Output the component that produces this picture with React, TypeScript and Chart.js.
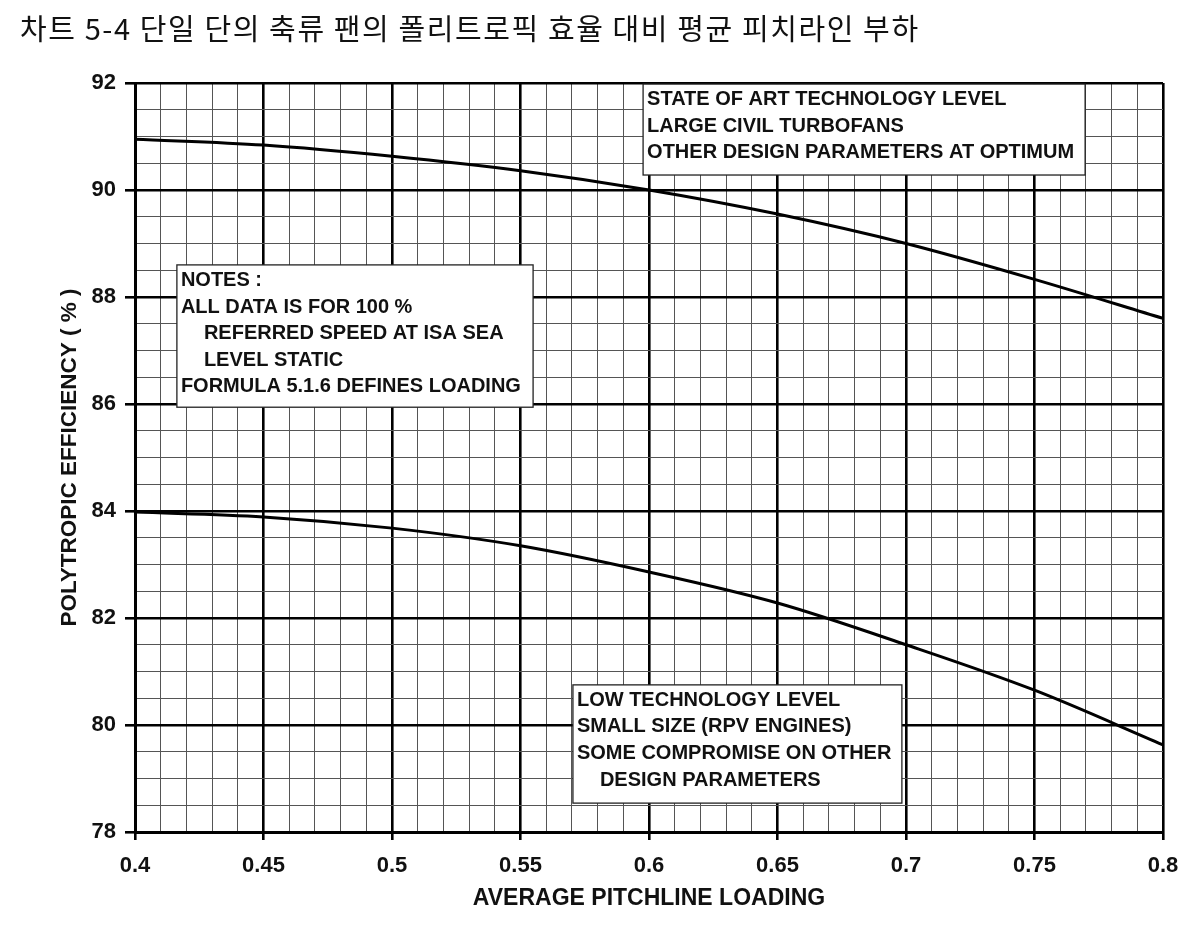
import React, { useEffect, useRef } from 'react';
import { Chart, registerables } from 'chart.js';

Chart.register(...registerables);

const TITLE = '차트 5-4 단일 단의 축류 팬의 폴리트로픽 효율 대비 평균 피치라인 부하';
const X_TITLE = 'AVERAGE PITCHLINE LOADING';
const Y_TITLE = 'POLYTROPIC EFFICIENCY ( % )';

const loading = [0.4, 0.45, 0.5, 0.55, 0.6, 0.65, 0.7, 0.75, 0.8];
const stateOfArtEfficiency = [90.95, 90.84, 90.63, 90.36, 90.0, 89.55, 89.0, 88.33, 87.6];
const lowTechEfficiency = [83.98, 83.89, 83.68, 83.35, 82.86, 82.28, 81.5, 80.65, 79.63];

const xTickLabels = ['0.4', '0.45', '0.5', '0.55', '0.6', '0.65', '0.7', '0.75', '0.8'];
const yTickLabels = ['78', '80', '82', '84', '86', '88', '90', '92'];

const stateOfArtNote = [
  'STATE OF ART TECHNOLOGY LEVEL',
  'LARGE CIVIL TURBOFANS',
  'OTHER DESIGN PARAMETERS AT OPTIMUM',
];
const generalNote = [
  'NOTES :',
  'ALL DATA IS FOR 100 %',
  '   REFERRED SPEED AT ISA SEA',
  '   LEVEL STATIC',
  'FORMULA 5.1.6 DEFINES LOADING',
];
const lowTechNote = [
  'LOW TECHNOLOGY LEVEL',
  'SMALL SIZE (RPV ENGINES)',
  'SOME COMPROMISE ON OTHER',
  '   DESIGN PARAMETERS',
];

// box corners in data units (x = loading, y = efficiency)
const noteBoxes = [
  { x1: 0.5977, y1: 91.98, x2: 0.7697, y2: 90.28, lines: stateOfArtNote },
  { x1: 0.4163, y1: 88.6, x2: 0.5549, y2: 85.94, lines: generalNote },
  { x1: 0.5704, y1: 80.75, x2: 0.6984, y2: 78.54, lines: lowTechNote },
];

const FONT = '"Liberation Sans", Arial, Helvetica, sans-serif';

const isMajorX = (v: number) => Math.abs(Math.round(v * 100)) % 5 === 0;
const isMajorY = (v: number) => Math.abs(Math.round(v * 2)) % 4 === 0;

const notesPlugin = {
  id: 'notes',
  afterDatasetsDraw(chart: any) {
    const { ctx, scales } = chart;
    const xs = scales.x;
    const ys = scales.y;
    ctx.save();
    for (const b of noteBoxes) {
      const l = xs.getPixelForValue(b.x1);
      const r = xs.getPixelForValue(b.x2);
      const t = ys.getPixelForValue(b.y1);
      const bt = ys.getPixelForValue(b.y2);
      ctx.fillStyle = '#ffffff';
      ctx.fillRect(l, t, r - l, bt - t);
      ctx.strokeStyle = '#222';
      ctx.lineWidth = 1.3;
      ctx.strokeRect(l, t, r - l, bt - t);
      ctx.fillStyle = '#111';
      ctx.font = `bold 20px ${FONT}`;
      ctx.textBaseline = 'middle';
      ctx.textAlign = 'left';
      b.lines.forEach((line, i) => {
        const indent = line.startsWith('   ') ? 23 : 0;
        ctx.fillText(line.trim(), l + 4 + indent, t + 15.5 + i * 26.6);
      });
    }
    ctx.restore();
  },
};

export default function App() {
  const ref = useRef<HTMLCanvasElement | null>(null);

  useEffect(() => {
    if (!ref.current) return;
    const chart = new Chart(ref.current, {
      type: 'scatter',
      data: {
        datasets: [
          {
            label: 'State of art',
            data: loading.map((x, i) => ({ x, y: stateOfArtEfficiency[i] })),
            showLine: true,
            borderColor: '#000',
            borderWidth: 3,
            pointRadius: 0,
            cubicInterpolationMode: 'monotone',
          },
          {
            label: 'Low technology',
            data: loading.map((x, i) => ({ x, y: lowTechEfficiency[i] })),
            showLine: true,
            borderColor: '#000',
            borderWidth: 3,
            pointRadius: 0,
            cubicInterpolationMode: 'monotone',
          },
        ],
      },
      options: {
        responsive: false,
        animation: false,
        devicePixelRatio: 1,
        layout: { padding: { top: 83, right: 41, bottom: 0, left: 0 } },
        plugins: {
          legend: { display: false },
          tooltip: { enabled: false },
        },
        scales: {
          x: {
            type: 'linear',
            min: 0.4,
            max: 0.8,
            afterFit: (s: any) => {
              s.height = 94;
            },
            ticks: {
              stepSize: 0.01,
              autoSkip: false,
              maxTicksLimit: 1000,
              maxRotation: 0,
              padding: 13,
              color: '#111',
              font: { family: FONT, size: 22, weight: 'bold' },
              callback: (v: any) => {
                const n = Number(v);
                if (!isMajorX(n)) return '';
                const idx = Math.round((n - 0.4) / 0.05);
                return xTickLabels[idx] ?? '';
              },
            },
            grid: {
              color: (c: any) => (isMajorX(c.tick?.value ?? 0) ? '#000' : '#555'),
              lineWidth: (c: any) => (isMajorX(c.tick?.value ?? 0) ? 2.6 : 1),
              tickColor: (c: any) => (isMajorX(c.tick?.value ?? 0) ? '#000' : 'rgba(0,0,0,0)'),
              tickWidth: 2.6,
              tickLength: 8,
            },
            border: { display: true, color: '#000', width: 3 },
            title: {
              display: true,
              text: X_TITLE,
              color: '#111',
              font: { family: FONT, size: 23, weight: 'bold' },
              padding: { top: 0, bottom: 14 },
            },
          },
          y: {
            type: 'linear',
            min: 78,
            max: 92,
            afterFit: (s: any) => {
              s.width = 135;
            },
            ticks: {
              stepSize: 0.5,
              autoSkip: false,
              maxTicksLimit: 1000,
              padding: 9,
              color: '#111',
              font: { family: FONT, size: 22, weight: 'bold' },
              callback: (v: any) => {
                const n = Number(v);
                if (!isMajorY(n)) return '';
                const idx = Math.round((n - 78) / 2);
                return yTickLabels[idx] ?? '';
              },
            },
            grid: {
              color: (c: any) => (isMajorY(c.tick?.value ?? 0) ? '#000' : '#555'),
              lineWidth: (c: any) => (isMajorY(c.tick?.value ?? 0) ? 2.6 : 1),
              tickColor: (c: any) => (isMajorY(c.tick?.value ?? 0) ? '#000' : 'rgba(0,0,0,0)'),
              tickWidth: 2.6,
              tickLength: 10,
            },
            border: { display: true, color: '#000', width: 3 },
            title: {
              display: true,
              text: Y_TITLE,
              color: '#111',
              font: { family: FONT, size: 22.5, weight: 'bold' },
              padding: { top: 56, bottom: 0 },
            },
          },
        },
      },
      plugins: [notesPlugin],
    } as any);
    return () => chart.destroy();
  }, []);

  return (
    <div style={{ position: 'absolute', left: 0, top: 0, width: 1204, height: 926, background: '#fff' }}>
      <canvas ref={ref} width={1204} height={926} style={{ position: 'absolute', left: 0, top: 0 }} />
      <div
        style={{
          position: 'absolute',
          left: 20,
          top: 13,
          fontFamily: '"Noto Sans CJK KR", "Noto Sans", sans-serif',
          fontSize: 29,
          lineHeight: '29px',
          letterSpacing: '1.6px',
          color: '#111',
          whiteSpace: 'nowrap',
        }}
      >
        {TITLE}
      </div>
    </div>
  );
}
